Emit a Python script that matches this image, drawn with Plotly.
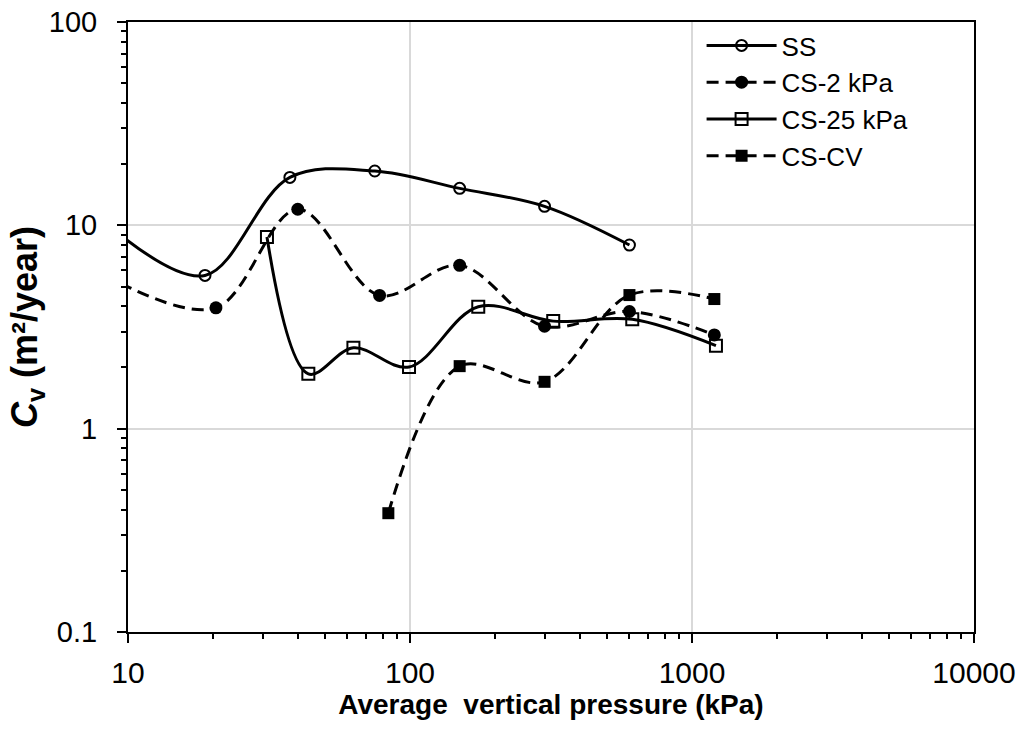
import plotly.graph_objects as go

# Data (x: average vertical pressure kPa, y: Cv m²/year)
ss_x = [9.375, 18.75, 37.5, 75, 150, 300, 600]
ss_y = [9.0, 5.67, 17.2, 18.5, 15.2, 12.4, 8.0]

cs2_x = [9.4, 20.5, 40, 78, 150, 300, 600, 1200]
cs2_y = [5.2, 3.93, 12.0, 4.52, 6.36, 3.19, 3.77, 2.89]

cs25_x = [31.1, 43.6, 63, 99.2, 174.6, 322, 614, 1216]
cs25_y = [8.76, 1.86, 2.50, 2.01, 3.98, 3.38, 3.45, 2.56]

cscv_x = [83.8, 150, 300, 600, 1200]
cscv_y = [0.384, 2.03, 1.70, 4.54, 4.34]

series_names = ["SS", "CS-2 kPa", "CS-25 kPa", "CS-CV"]

x_tickvals = [10, 100, 1000, 10000]
x_ticktext = ["10", "100", "1000", "10000"]
y_tickvals = [0.1, 1, 10, 100]
y_ticktext = ["0.1", "1", "10", "100"]
minor_digits = [2, 3, 4, 5, 6, 7, 8, 9]
x_minor = [d * 10 ** k for k in (1, 2, 3) for d in minor_digits]
y_minor = [d * 10.0 ** k for k in (-1, 0, 1) for d in minor_digits]

FONT = "Liberation Sans, Arial, sans-serif"
DASH = "12px,7px"

fig = go.Figure()

specs = [
    (ss_x, ss_y, series_names[0], "solid", dict(symbol="circle-open", size=11, line=dict(width=2, color="black"))),
    (cs2_x, cs2_y, series_names[1], DASH, dict(symbol="circle", size=13, color="black")),
    (cs25_x, cs25_y, series_names[2], "solid", dict(symbol="square-open", size=12, line=dict(width=2, color="black"))),
    (cscv_x, cscv_y, series_names[3], DASH, dict(symbol="square", size=12, color="black")),
]

for xs, ys, name, dash, marker in specs:
    m = dict(marker)
    m.setdefault("color", "black")
    fig.add_trace(go.Scatter(
        x=xs, y=ys, name=name, mode="lines+markers",
        line=dict(color="black", width=3, dash=dash, shape="spline", smoothing=1.0),
        marker=m,
    ))

axis_common = dict(
    type="log", automargin=False, ticklabeloverflow="allow",
    showline=True, linecolor="black", linewidth=2, mirror=True,
    ticks="outside", ticklen=9, tickwidth=2, tickcolor="black",
    showgrid=True, gridcolor="#d9d9d9", gridwidth=2,
    zeroline=False,
)

fig.update_xaxes(
    **axis_common,
    range=[1, 4],
    tickvals=x_tickvals, ticktext=x_ticktext,
    tickfont=dict(family=FONT, size=30, color="black"),
    minor=dict(ticks="outside", ticklen=5, tickwidth=2, tickcolor="black",
               showgrid=False, tickvals=x_minor),
    ticklabelstandoff=4,
    title=dict(text="<b>Average  vertical pressure (kPa)</b>",
               font=dict(family=FONT, size=28, color="black"), standoff=6),
)
fig.update_yaxes(
    **axis_common,
    range=[-1, 2],
    tickvals=y_tickvals, ticktext=y_ticktext,
    tickfont=dict(family=FONT, size=29, color="black"),
    minor=dict(ticks="outside", ticklen=5, tickwidth=2, tickcolor="black",
               showgrid=False, tickvals=y_minor),
    ticklabelstandoff=14,
    title=dict(text="<b><i>C</i><sub>v</sub> (m²/year)</b>",
               font=dict(family=FONT, size=36, color="black"), standoff=0),
)

fig.update_layout(
    width=1022, height=740,
    margin=dict(l=128, r=48, t=22, b=108),
    paper_bgcolor="white", plot_bgcolor="white",
    font=dict(family=FONT, color="black"),
    legend=dict(
        x=0.678, y=1.0, xanchor="left", yanchor="top",
        bgcolor="white", borderwidth=0,
        font=dict(family=FONT, size=26, color="black"),
        itemwidth=70, tracegroupgap=0,
    ),
    showlegend=True,
)

fig.write_html("out.html",
               config={"displayModeBar": False},
               post_script="document.body.style.margin='0';document.body.style.overflow='hidden';")
